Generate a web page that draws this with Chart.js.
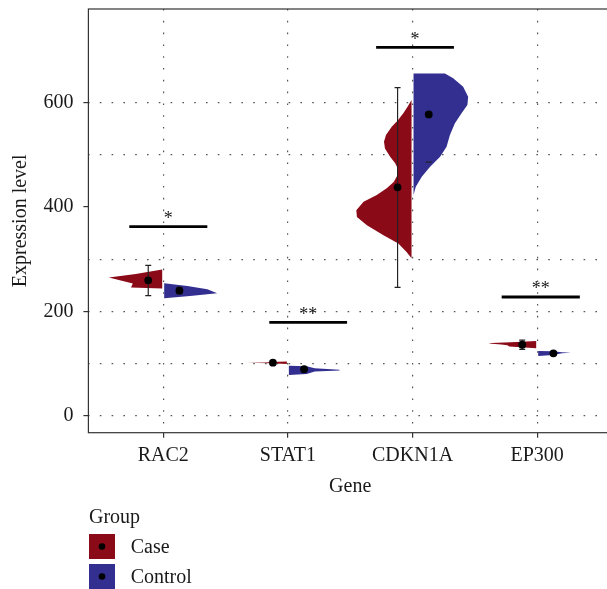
<!DOCTYPE html>
<html>
<head>
<meta charset="utf-8">
<script src="https://cdn.jsdelivr.net/npm/chart.js@4.4.1/dist/chart.umd.min.js"></script>
<style>
  html, body { margin: 0; padding: 0; overflow: hidden; background: #fff; }
  canvas { display: block; }
</style>
</head>
<body>
<canvas id="violin" width="616" height="589" style="width:616px;height:589px"></canvas>
<script>
const genes = ["RAC2", "STAT1", "CDKN1A", "EP300"];
const groups = ["Case", "Control"];
const yTicks = [0, 100, 200, 300, 400, 500, 600, 700];
const yLabels = [0, 200, 400, 600];

// half violin outlines: expression level and half width (category units)
const caseLevels = [
  [280.2, 271.5, 264.8, 253.3, 245.6, 243.7],
  [104.0, 103.0, 102.2, 101.4, 100.4, 99.0],
  [605, 592, 580, 566, 554, 538, 525, 512, 497, 484, 472, 460, 448, 436, 423, 410, 394, 381, 365, 346, 330, 314, 302],
  [143.0, 141.5, 139.5, 138.5, 136.5, 135.0, 132.5, 129.5],
];
const caseDensity = [
  [0, 0.212, 0.428, 0.236, 0.25, 0],
  [0, 0.127, 0.175, 0.318, 0.127, 0],
  [0, 0.032, 0.066, 0.111, 0.159, 0.205, 0.221, 0.213, 0.173, 0.131, 0.107, 0.115, 0.143, 0.199, 0.279, 0.385, 0.443, 0.438, 0.358, 0.225, 0.106, 0.040, 0],
  [0, 0.159, 0.358, 0.382, 0.279, 0.231, 0.215, 0],
];
const controlLevels = [
  [253.8, 248.6, 242.3, 234.6, 229.5, 225.0],
  [95.8, 95.0, 91.0, 88.3, 86.6, 84.5, 80.0, 78.0],
  [656, 656, 646.7, 630.6, 611.5, 595.6, 579.6, 560.5, 538, 515.6, 496.5, 477.3, 458, 439, 423],
  [124.0, 123.5, 121.8, 120.8, 119.6, 116.5, 114.5],
];
const controlDensity = [
  [0, 0.186, 0.346, 0.425, 0.207, 0],
  [0, 0.143, 0.207, 0.406, 0.406, 0.207, 0.143, 0],
  [0, 0.252, 0.318, 0.398, 0.438, 0.432, 0.385, 0.332, 0.292, 0.265, 0.213, 0.133, 0.066, 0.018, 0],
  [0, 0.119, 0.191, 0.263, 0.191, 0.119, 0],
];

const caseMean = [259.5, 101.6, 437.7, 136.0];
const caseLow = [230.0, 99.0, 246.0, 127.2];
const caseHigh = [288.3, 104.5, 628.8, 145.0];
const controlMean = [239.6, 89.0, 577.6, 119.6];
const controlLow = [234.0, 86.0, 486.0, 116.5];
const controlHigh = [246.0, 92.0, 486.0, 122.5];

const sigText = ["*", "**", "*", "**"];
const sigLevel = [362.6, 179.0, 706.0, 227.5];
const sigFrom = [0.728, 1.851, 2.708, 3.715];
const sigTo = [1.354, 2.475, 3.332, 4.342];

const caseColor = "#8b0a18";
const controlColor = "#322f91";
const textColor = "#1a1a1a";
const gridColor = "#555";
const gap = 0.008;
const caseDodge = -0.12;
const controlDodge = 0.13;
const capHalf = 0.024;
const fontFamily = "'Liberation Serif', 'Times New Roman', serif";

Chart.defaults.font.family = fontFamily;
Chart.defaults.color = textColor;

function halfViolin(i, levels, widths, side, color) {
  return {
    type: "line",
    data: levels.map((v, k) => ({ x: i + 1 + side * (gap + widths[k]), y: v })),
    backgroundColor: color,
    borderColor: "transparent",
    borderWidth: 0,
    pointRadius: 0,
    fill: "shape",
    order: 3,
  };
}

function errorBar(x, lo, hi) {
  return {
    type: "line",
    data: [
      { x: x - capHalf, y: lo }, { x: x + capHalf, y: lo }, { x: x, y: lo },
      { x: x, y: hi }, { x: x - capHalf, y: hi }, { x: x + capHalf, y: hi },
    ],
    borderColor: "#222",
    borderWidth: 1.2,
    pointRadius: 0,
    fill: false,
    order: 2,
  };
}

const datasets = [];
genes.forEach((g, i) => {
  datasets.push(halfViolin(i, caseLevels[i], caseDensity[i], -1, caseColor));
  datasets.push(halfViolin(i, controlLevels[i], controlDensity[i], 1, controlColor));
  datasets.push(errorBar(i + 1 + caseDodge, caseLow[i], caseHigh[i]));
  datasets.push(errorBar(i + 1 + controlDodge, controlLow[i], controlHigh[i]));
  datasets.push({
    type: "line",
    data: [{ x: sigFrom[i], y: sigLevel[i] }, { x: sigTo[i], y: sigLevel[i] }],
    borderColor: "#000",
    borderWidth: 2.8,
    pointRadius: 0,
    fill: false,
    order: 1,
  });
});
datasets.push({
  type: "scatter",
  label: groups[0],
  data: caseMean.map((v, i) => ({ x: i + 1 + caseDodge, y: v })),
  backgroundColor: "#000",
  borderWidth: 0,
  pointRadius: 3.9,
  order: 0,
});
datasets.push({
  type: "scatter",
  label: groups[1],
  data: controlMean.map((v, i) => ({ x: i + 1 + controlDodge, y: v })),
  backgroundColor: "#000",
  borderWidth: 0,
  pointRadius: 3.9,
  order: 0,
});

const extras = {
  id: "extras",
  afterDatasetsDraw(chart) {
    const { ctx, chartArea, scales } = chart;
    ctx.save();
    // significance stars
    ctx.fillStyle = textColor;
    ctx.font = "18px " + fontFamily;
    ctx.textAlign = "center";
    ctx.textBaseline = "alphabetic";
    sigText.forEach((t, i) => {
      const x = scales.x.getPixelForValue((sigFrom[i] + sigTo[i]) / 2);
      const y = scales.y.getPixelForValue(sigLevel[i]) - 2.6;
      ctx.fillText(t, x, y);
    });
    // panel border
    ctx.strokeStyle = "#333";
    ctx.lineWidth = 1.2;
    ctx.strokeRect(chartArea.left, chartArea.top, chartArea.right - chartArea.left, chartArea.bottom - chartArea.top);
    ctx.restore();
  },
  afterDraw(chart) {
    const { ctx } = chart;
    ctx.save();
    ctx.fillStyle = textColor;
    ctx.font = "20px " + fontFamily;
    ctx.textAlign = "left";
    ctx.textBaseline = "alphabetic";
    ctx.fillText("Group", 89, 523.3);
    [caseColor, controlColor].forEach((c, k) => {
      const top = 534 + k * 30;
      ctx.fillStyle = c;
      ctx.fillRect(89, top, 26, 25);
      ctx.fillStyle = "#000";
      ctx.beginPath();
      ctx.arc(102, top + 12.5, 3.3, 0, Math.PI * 2);
      ctx.fill();
      ctx.fillStyle = textColor;
      ctx.fillText(groups[k], 130.7, 553.3 + k * 30);
    });
    ctx.restore();
  },
};

new Chart(document.getElementById("violin"), {
  type: "line",
  data: { datasets },
  options: {
    responsive: false,
    animation: false,
    layout: { padding: { top: 9, bottom: 89.3, left: 0, right: 0 } },
    plugins: { legend: { display: false }, tooltip: { enabled: false } },
    scales: {
      x: {
        type: "linear",
        min: 0.4,
        max: 4.6,
        afterBuildTicks: (s) => { s.ticks = genes.map((g, i) => ({ value: i + 1 })); },
        afterFit: (s) => { s.height = 67; s.paddingLeft = 0; s.paddingRight = 0; },
        ticks: {
          callback: (v, i) => genes[i],
          font: { size: 20 },
          color: textColor,
          padding: 6,
          autoSkip: false,
          maxRotation: 0,
        },
        grid: { color: gridColor, lineWidth: 1.2, tickLength: 5, tickColor: "#333", tickWidth: 1.2 },
        border: { display: false, dash: [1.6, 10.2] },
        title: { display: true, text: "Gene", font: { size: 20 }, color: textColor, padding: { top: 0, bottom: 1 } },
      },
      y: {
        type: "linear",
        min: -32.6,
        max: 779.6,
        afterBuildTicks: (s) => { s.ticks = yTicks.map((v) => ({ value: v })); },
        afterFit: (s) => { s.width = 88.4; s.paddingTop = 0; s.paddingBottom = 0; },
        ticks: {
          callback: (v) => (yLabels.includes(v) ? String(v) : ""),
          font: { size: 20 },
          color: textColor,
          padding: 10,
        },
        grid: {
          color: (c) => (c.tick && (c.tick.value === 400 || c.tick.value === 700) ? "transparent" : gridColor),
          lineWidth: 1.2,
          tickLength: 5,
          tickColor: (c) => (c.tick && yLabels.includes(c.tick.value) ? "#333" : "transparent"),
          tickWidth: 1.2,
        },
        border: { display: false, dash: [1.6, 10.2] },
        title: { display: true, text: "Expression level", font: { size: 20 }, color: textColor, padding: { top: 9, bottom: 0 } },
      },
    },
  },
  plugins: [extras],
});
</script>
</body>
</html>
